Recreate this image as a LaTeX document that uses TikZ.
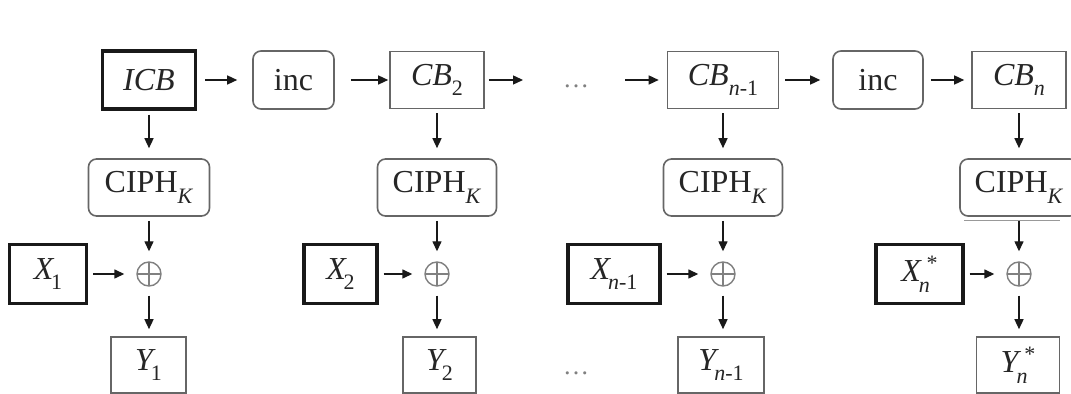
\documentclass[tikz,border=0pt]{standalone}
\usepackage{fontspec}
\setmainfont{Liberation Serif}
\usetikzlibrary{arrows.meta,calc}
\newcommand{\lsub}[1]{\raisebox{-0.7ex}{\fontsize{11}{13}\selectfont #1}}
\newcommand{\lsubsup}[2]{\makebox[0pt][l]{\raisebox{-0.7ex}{\fontsize{11}{13}\selectfont #1}}\raisebox{0.8ex}{\fontsize{11}{13}\selectfont\hspace{0.35em}#2}}
\begin{document}
\begin{tikzpicture}[x=0.5pt,y=-0.5pt,
  txt/.style={font=\fontsize{16}{19}\selectfont, text=black!85, inner sep=0pt},
  bx/.style 2 args={minimum width=#1*0.5pt, minimum height=#2*0.5pt},
  thinbox/.style={txt, draw=black!60, line width=0.8pt},
  thickbox/.style={txt, draw=black!90, line width=1.7pt},
  rndbox/.style={thinbox, rounded corners=4pt},
  dotsnode/.style={font=\fontsize{13}{15}\selectfont, text=black!50, inner sep=0pt},
  arr/.style={-{Triangle[length=5pt,width=4.5pt]}, line width=0.7pt, draw=black!90},
  xornode/.style={circle, draw=black!50, line width=0.7pt, minimum size=12pt, inner sep=0pt,
    path picture={\draw[black!50,line width=0.7pt] (path picture bounding box.north) -- (path picture bounding box.south) (path picture bounding box.west) -- (path picture bounding box.east);}}
]
\path[use as bounding box, clip] (0,0) rectangle (1071,394);
\fill[white] (0,0) rectangle (1071,394);

% top row
\node[thickbox,bx={93}{58}] (icb) at (149,80) {\textit{ICB}};
\node[rndbox,bx={81}{58}] (inc1) at (293.5,80) {inc};
\node[thinbox,bx={94}{57}] (cb2) at (437,80) {\textit{CB}\lsub{2}};
\coordinate (o1) at (523,80);
\node[dotsnode] (d1) at (576,86) {\dots};
\coordinate (i1) at (625,80);
\node[thinbox,bx={111}{57}] (cbn1) at (723,80) {\textit{CB}\lsub{\textit{n}-1}};
\node[rndbox,bx={90}{58}] (inc2) at (878,80) {inc};
\node[thinbox,bx={94}{57}] (cbn) at (1019,80) {\textit{CB}\lsub{\textit{n}}};

% cipher row
\node[rndbox,bx={121}{57}] (ciph1) at (149,187.5) {CIPH\lsub{\textit{K}}};
\node[rndbox,bx={119}{57}] (ciph2) at (437,187.5) {CIPH\lsub{\textit{K}}};
\node[rndbox,bx={119}{57}] (ciph3) at (723,187.5) {CIPH\lsub{\textit{K}}};
\node[rndbox,bx={118}{57}] (ciph4) at (1019,187.5) {CIPH\lsub{\textit{K}}};
\draw[black!40, line width=0.5pt] ($(ciph4.south)+(-55,4)$) -- ($(ciph4.south)+(41,4)$);

% xor row
\node[xornode] (p1) at (149,274) {};
\node[xornode] (p2) at (437,274) {};
\node[xornode] (p3) at (723,274) {};
\node[xornode] (p4) at (1019,274) {};
\node[thickbox,bx={77}{59}] (x1) at (48,274) {\textit{X}\kern-0.1em\lsub{1}};
\node[thickbox,bx={73}{59}] (x2) at (340.5,274) {\textit{X}\kern-0.1em\lsub{2}};
\node[thickbox,bx={92}{59}] (xn1) at (614,274) {\textit{X}\kern-0.1em\lsub{\textit{n}-1}};
\node[thickbox,bx={87}{59}] (xn) at (919.5,274) {\textit{X}\kern-0.1em\lsubsup{\textit{n}}{*}};

% output row
\node[thinbox,bx={75}{56}] (y1) at (148.5,365) {\textit{Y}\kern-0.15em\lsub{1}};
\node[thinbox,bx={73}{56}] (y2) at (439.5,365) {\textit{Y}\kern-0.15em\lsub{2}};
\node[dotsnode] (d2) at (576,373) {\dots};
\node[thinbox,bx={86}{56}] (yn1) at (721,365) {\textit{Y}\kern-0.15em\lsub{\textit{n}-1}};
\node[thinbox,bx={83}{56}] (yn) at (1018,365) {\textit{Y}\kern-0.15em\lsubsup{\textit{n}}{*}};

% top arrows
\draw[arr, shorten <=4pt, shorten >=7.5pt] (icb) -- (inc1);
\draw[arr, shorten <=8pt, shorten >=0.5pt] (inc1) -- (cb2);
\draw[arr, shorten <=2pt] (cb2) -- (o1);
\draw[arr, shorten >=4pt] (i1) -- (cbn1);
\draw[arr, shorten <=3pt, shorten >=6pt] (cbn1) -- (inc2);
\draw[arr, shorten <=3.5pt, shorten >=3.5pt] (inc2) -- (cbn);

% columns
\foreach \t/\c/\p/\x/\y in {icb/ciph1/p1/x1/y1, cb2/ciph2/p2/x2/y2, cbn1/ciph3/p3/xn1/yn1, cbn/ciph4/p4/xn/yn}{
  \draw[arr, shorten <=2pt, shorten >=5pt] (\t) -- (\c);
  \draw[arr, shorten <=2pt, shorten >=5pt] (\c) -- (\p);
  \draw[arr, shorten <=2.5pt, shorten >=6pt] (\x) -- (\p);
  \draw[arr, shorten <=4.5pt, shorten >=3.5pt] (\p) -- (\p |- \y.north);
}
\end{tikzpicture}
\end{document}
